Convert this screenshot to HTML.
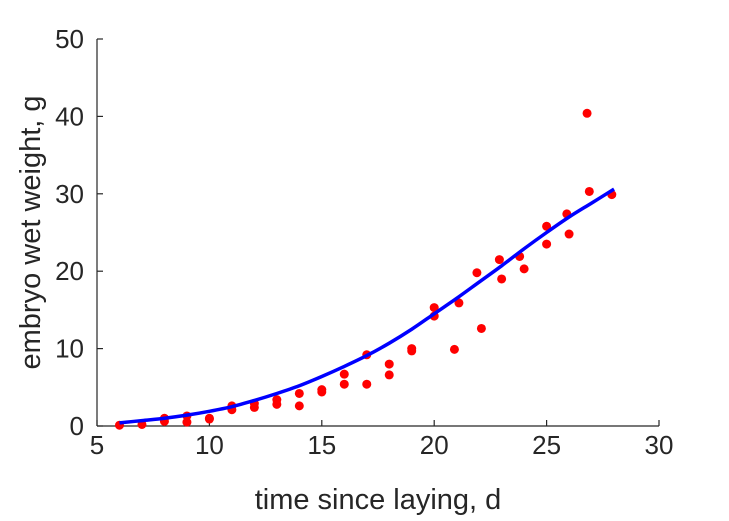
<!DOCTYPE html>
<html><head><meta charset="utf-8"><style>body{margin:0;background:#fff}svg{display:block}</style></head>
<body>
<svg id="chart" width="729" height="521" xmlns="http://www.w3.org/2000/svg" font-family="Liberation Sans, sans-serif"></svg>
<script>
const xTicks=[5,10,15,20,25,30];
const yTicks=[0,10,20,30,40,50];
const dataX=[6,7,8,8,9,9,10,10,11,11,12,12,13,13,14,14,15,15,16,16,17,17,18,18,19,19,20,20,20.9,21.1,21.9,22.1,22.9,23,23.8,24,25,25,25.9,26,26.8,26.9,27.9];
const dataY=[0.1,0.2,1.0,0.6,1.3,0.5,0.9,1.0,2.6,2.1,2.9,2.4,3.4,2.8,4.2,2.6,4.7,4.4,6.7,5.4,9.2,5.4,8.0,6.6,10.0,9.7,15.3,14.2,9.9,15.9,19.8,12.6,21.5,19.0,21.9,20.3,25.8,23.5,27.4,24.8,40.4,30.3,29.9];
const fitX=[6,7,8,9,10,11,12,13,14,15,16,17,18,19,20,21,22,23,24,25,26,27,28];
const fitY=[0.4,0.7,1.0,1.4,1.9,2.5,3.3,4.2,5.2,6.4,7.7,9.1,10.7,12.5,14.5,16.5,18.6,20.7,22.9,25.0,27.0,28.8,30.6];
const NS="http://www.w3.org/2000/svg";
const svg=document.getElementById('chart');
const X0=97,X1=659,Y0=426,Y1=39;
const sx=v=>X0+(v-5)/25*(X1-X0);
const sy=v=>Y0-(v/50)*(Y0-Y1);
function mk(t,a,p){const e=document.createElementNS(NS,t);for(const k in a)e.setAttribute(k,a[k]);(p||svg).appendChild(e);return e;}
const axes=mk('g',{});


const xl=mk('line',{x1:X0,y1:Y0,x2:X1,y2:Y0,stroke:'#262626','stroke-width':1.2},axes);


const yl=mk('line',{x1:X0,y1:Y0,x2:X0,y2:Y1,stroke:'#262626','stroke-width':1.2},axes);


xTicks.forEach(v=>{
  const l=mk('line',{x1:sx(v),y1:Y0,x2:sx(v),y2:Y0-6,stroke:'#262626','stroke-width':1.2},axes);
  
  
  const t=mk('text',{x:sx(v),y:Y0+28,'text-anchor':'middle','font-size':26,fill:'#262626'},axes);
  t.textContent=v;
  
  
});
yTicks.forEach(v=>{
  const l=mk('line',{x1:X0,y1:sy(v),x2:X0+6,y2:sy(v),stroke:'#262626','stroke-width':1.2},axes);
  
  
  const t=mk('text',{x:X0-13,y:sy(v)+9,'text-anchor':'end','font-size':26,fill:'#262626'},axes);
  t.textContent=v;
  
  
});
const xt=mk('text',{x:(X0+X1)/2,y:509,'text-anchor':'middle','font-size':29,fill:'#262626'});
xt.textContent='time since laying, d';


const yt=mk('text',{x:0,y:0,'text-anchor':'middle','font-size':29,fill:'#262626',transform:`translate(40,${(Y0+Y1)/2}) rotate(-90)`});
yt.textContent='embryo wet weight, g';


const pts=mk('g',{});


dataX.forEach((v,i)=>{
  const c=mk('circle',{cx:sx(v),cy:sy(dataY[i]),r:4.5,fill:'#ff0000'},pts);
  
  
});
// smooth Catmull-Rom path through fit values
const P=fitX.map((v,i)=>[sx(v),sy(fitY[i])]);
let d='M'+P[0][0]+','+P[0][1];
for(let i=0;i<P.length-1;i++){
  const p0=P[Math.max(i-1,0)],p1=P[i],p2=P[i+1],p3=P[Math.min(i+2,P.length-1)];
  const c1=[p1[0]+(p2[0]-p0[0])/6,p1[1]+(p2[1]-p0[1])/6];
  const c2=[p2[0]-(p3[0]-p1[0])/6,p2[1]-(p3[1]-p1[1])/6];
  d+=` C${c1[0]},${c1[1]} ${c2[0]},${c2[1]} ${p2[0]},${p2[1]}`;
}
const fit=mk('path',{d:d,fill:'none',stroke:'#0000ff','stroke-width':3.5});


</script>
</body></html>
